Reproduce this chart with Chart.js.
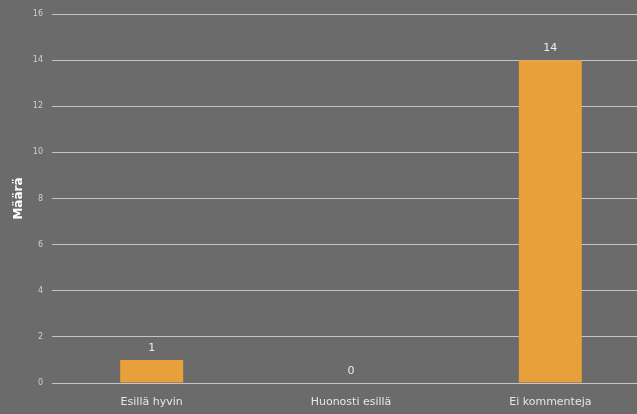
<!DOCTYPE html>
<html><head><meta charset="utf-8">
<script src="https://cdn.jsdelivr.net/npm/chart.js@4"></script>
<style>html,body{margin:0;padding:0;background:#6b6b6b;overflow:hidden;width:637px;height:414px}#wrap{width:650px;height:414px}</style>
</head><body><div id="wrap"><canvas id="c" width="650" height="414"></canvas></div>
<script>
const categories = ["Esillä hyvin", "Huonosti esillä", "Ei kommenteja"];
const values = [1, 0, 14];
const yTicks = [0, 2, 4, 6, 8, 10, 12, 14, 16];
const yTitle = "Määrä";

const labelPlugin = {
  id: 'vlabels',
  afterDatasetsDraw(chart) {
    const ctx = chart.ctx;
    const meta = chart.getDatasetMeta(0);
    const ys = chart.scales.y;
    ctx.save();
    ctx.fillStyle = '#ececec';
    ctx.font = '11px "DejaVu Sans", sans-serif';
    ctx.textAlign = 'center';
    ctx.textBaseline = 'bottom';
    meta.data.forEach((bar, i) => {
      const y = ys.getPixelForValue(values[i]);
      ctx.fillText(String(values[i]), bar.x, y - 6);
    });
    ctx.restore();
  }
};

new Chart(document.getElementById('c'), {
  type: 'bar',
  data: { labels: categories, datasets: [{ data: values, backgroundColor: '#e8a03a', barPercentage: 0.316, categoryPercentage: 1 }] },
  options: {
    responsive: false, animation: false,
    layout: { padding: { top: 14, right: 0, left: 0, bottom: 0 } },
    plugins: { legend: { display: false }, tooltip: { enabled: false } },
    scales: {
      x: {
        grid: { display: false, drawTicks: false },
        border: { display: false },
        ticks: { color: '#e6e6e6', font: { family: '"DejaVu Sans", sans-serif', size: 11 }, padding: 13, maxRotation: 0 },
        afterFit(s) { s.height = 31; }
      },
      y: {
        min: 0, max: 16,
        afterBuildTicks(s) { s.ticks = yTicks.map(v => ({ value: v })); },
        grid: { color: '#c4c4c4', lineWidth: 1, drawTicks: false },
        border: { display: false },
        ticks: { color: '#cfcfcf', font: { family: '"DejaVu Sans", sans-serif', size: 8 }, padding: 9 },
        title: { display: true, text: yTitle, color: '#ffffff', font: { family: '"DejaVu Sans", sans-serif', size: 12, weight: 'bold' }, padding: { top: 12, bottom: 0 } },
        afterFit(s) { s.width = 52; }
      }
    }
  },
  plugins: [labelPlugin]
});
</script></body></html>
